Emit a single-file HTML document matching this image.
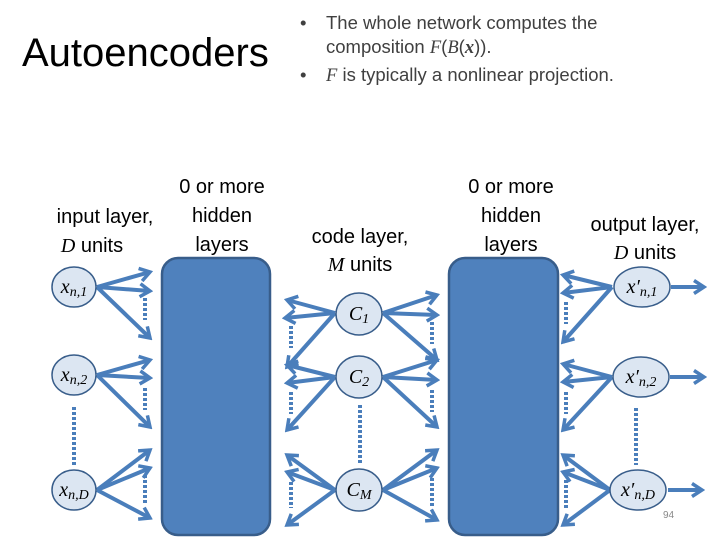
<!DOCTYPE html>
<html><head><meta charset="utf-8"><style>
body{margin:0;background:#fff;}
svg{display:block;}
</style></head><body>
<svg width="720" height="540" viewBox="0 0 720 540" xmlns="http://www.w3.org/2000/svg" font-family="Liberation Sans, sans-serif">
<defs>
<marker id="a" markerWidth="14" markerHeight="16" refX="11" refY="8" orient="auto" markerUnits="userSpaceOnUse">
<polyline points="1,1.5 11,8 1,14.5" fill="none" stroke="#4a7ebb" stroke-width="3.5"/>
</marker>
</defs>
<text x="22" y="66" font-size="40" fill="#000">Autoencoders</text>
<g font-size="18.5" fill="#404040">
<text x="300" y="29">•</text><text x="326" y="29">The whole network computes the</text>
<text x="326" y="53">composition <tspan font-family="Liberation Serif, serif" font-style="italic">F</tspan>(<tspan font-family="Liberation Serif, serif" font-style="italic">B</tspan>(<tspan font-family="Liberation Serif, serif" font-style="italic" font-weight="bold">x</tspan>)).</text>
<text x="300" y="81">•</text><text x="326" y="81"><tspan font-family="Liberation Serif, serif" font-style="italic">F</tspan> is typically a nonlinear projection.</text>
</g>
<g font-size="20" fill="#000" text-anchor="middle">
<text x="105" y="223">input layer,</text>
<text x="92" y="252"><tspan font-family="Liberation Serif, serif" font-style="italic">D</tspan> units</text>
<text x="222" y="193">0 or more</text><text x="222" y="222">hidden</text><text x="222" y="251">layers</text>
<text x="360" y="243">code layer,</text>
<text x="360" y="271"><tspan font-family="Liberation Serif, serif" font-style="italic">M</tspan> units</text>
<text x="511" y="193">0 or more</text><text x="511" y="222">hidden</text><text x="511" y="251">layers</text>
<text x="645" y="231">output layer,</text>
<text x="645" y="259"><tspan font-family="Liberation Serif, serif" font-style="italic">D</tspan> units</text>
</g>
<rect x="162" y="258" width="108" height="277" rx="16" fill="#4f81bd" stroke="#385d8a" stroke-width="2.5"/>
<rect x="449" y="258" width="109" height="277" rx="16" fill="#4f81bd" stroke="#385d8a" stroke-width="2.5"/>
<g stroke="#4a7ebb" stroke-width="4" fill="none" marker-end="url(#a)">
<line x1="97" y1="287" x2="150" y2="272"/><line x1="97" y1="287" x2="150" y2="291"/><line x1="97" y1="287" x2="150" y2="338"/>
<line x1="97" y1="375" x2="150" y2="360"/><line x1="97" y1="375" x2="150" y2="378"/><line x1="97" y1="375" x2="150" y2="427"/>
<line x1="97" y1="490" x2="150" y2="450"/><line x1="97" y1="490" x2="150" y2="468"/><line x1="97" y1="490" x2="150" y2="518"/>
<line x1="335" y1="313" x2="287" y2="300"/><line x1="335" y1="313" x2="285" y2="318"/><line x1="335" y1="313" x2="287" y2="367"/>
<line x1="335" y1="377" x2="287" y2="365"/><line x1="335" y1="377" x2="287" y2="383"/><line x1="335" y1="377" x2="287" y2="430"/>
<line x1="335" y1="490" x2="287" y2="455"/><line x1="335" y1="490" x2="287" y2="472"/><line x1="335" y1="490" x2="287" y2="525"/>
<line x1="383" y1="313" x2="437" y2="295"/><line x1="383" y1="313" x2="437" y2="315"/><line x1="383" y1="313" x2="437" y2="360"/>
<line x1="383" y1="377" x2="437" y2="360"/><line x1="383" y1="377" x2="437" y2="380"/><line x1="383" y1="377" x2="437" y2="427"/>
<line x1="383" y1="490" x2="437" y2="450"/><line x1="383" y1="490" x2="437" y2="468"/><line x1="383" y1="490" x2="437" y2="520"/>
<line x1="612" y1="287" x2="563" y2="275"/><line x1="612" y1="287" x2="563" y2="293"/><line x1="612" y1="287" x2="563" y2="342"/>
<line x1="612" y1="377" x2="563" y2="364"/><line x1="612" y1="377" x2="563" y2="382"/><line x1="612" y1="377" x2="563" y2="430"/>
<line x1="610" y1="490" x2="563" y2="455"/><line x1="610" y1="490" x2="563" y2="472"/><line x1="610" y1="490" x2="563" y2="525"/>
<line x1="671" y1="287" x2="704" y2="287"/><line x1="670" y1="377" x2="704" y2="377"/><line x1="668" y1="490" x2="702" y2="490"/>
</g>
<g stroke="#4a7ebb" stroke-width="4" stroke-dasharray="3,2" fill="none">
<line x1="145" y1="298" x2="145" y2="320"/><line x1="145" y1="388" x2="145" y2="410"/><line x1="145" y1="475" x2="145" y2="505"/>
<line x1="291" y1="326" x2="291" y2="348"/><line x1="291" y1="392" x2="291" y2="414"/><line x1="291" y1="482" x2="291" y2="508"/>
<line x1="432" y1="322" x2="432" y2="344"/><line x1="432" y1="390" x2="432" y2="412"/><line x1="432" y1="478" x2="432" y2="506"/>
<line x1="566" y1="302" x2="566" y2="324"/><line x1="566" y1="392" x2="566" y2="414"/><line x1="566" y1="480" x2="566" y2="508"/>
<line x1="74" y1="407" x2="74" y2="465"/><line x1="360" y1="405" x2="360" y2="465"/><line x1="636" y1="408" x2="636" y2="465"/>
</g>
<g fill="#dce6f2" stroke="#385d8a" stroke-width="1.5">
<ellipse cx="74" cy="287" rx="22" ry="20"/><ellipse cx="74" cy="375" rx="22" ry="20"/><ellipse cx="74" cy="490" rx="22" ry="20"/>
<ellipse cx="359" cy="314" rx="23" ry="21"/><ellipse cx="359" cy="377" rx="23" ry="21"/><ellipse cx="359" cy="490" rx="23" ry="21"/>
<ellipse cx="642" cy="287" rx="28" ry="20"/><ellipse cx="641" cy="377" rx="28" ry="20"/><ellipse cx="638" cy="490" rx="28" ry="20"/>
</g>
<g font-family="Liberation Serif, serif" font-style="italic" font-size="20" fill="#000" text-anchor="middle">
<text x="74" y="293">x<tspan font-size="14" dy="3">n,1</tspan></text>
<text x="74" y="381">x<tspan font-size="14" dy="3">n,2</tspan></text>
<text x="74" y="496">x<tspan font-size="14" dy="3">n,D</tspan></text>
<text x="359" y="320">C<tspan font-size="14" dy="3">1</tspan></text>
<text x="359" y="383">C<tspan font-size="14" dy="3">2</tspan></text>
<text x="359" y="496">C<tspan font-size="14" dy="3">M</tspan></text>
<text x="642" y="293">x′<tspan font-size="14" dy="3">n,1</tspan></text>
<text x="641" y="383">x′<tspan font-size="14" dy="3">n,2</tspan></text>
<text x="638" y="496">x′<tspan font-size="14" dy="3">n,D</tspan></text>
</g>
<text x="663" y="518" font-size="10" fill="#888">94</text>
</svg>
</body></html>
